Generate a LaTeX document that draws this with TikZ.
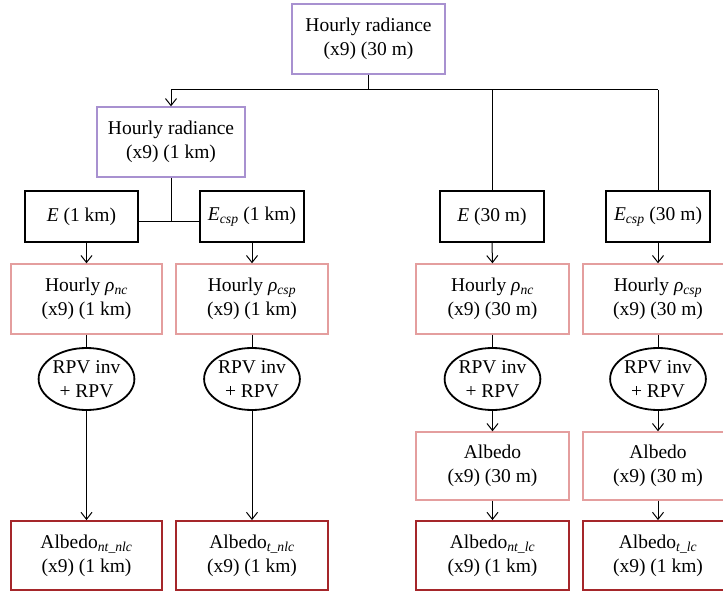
\documentclass[tikz,border=0pt]{standalone}
\usepackage{fontspec}
\setmainfont{Liberation Serif}
\usetikzlibrary{arrows.meta,shapes.geometric}
\definecolor{lav}{RGB}{168,145,208}
\definecolor{pinkb}{RGB}{228,158,158}
\definecolor{dred}{RGB}{165,38,42}
\begin{document}
\begin{tikzpicture}[x=1pt,y=-1pt,
  every node/.style={font=\fontsize{19.5}{24}\selectfont, align=center, inner sep=0pt},
  box/.style={draw, rectangle, minimum width=#1},
  purp/.style={box=#1, draw=lav, line width=1.3pt, minimum height=70pt},
  blk/.style={box=#1, draw=black, line width=1.8pt, minimum height=51pt},
  pnk/.style={box=#1, draw=pinkb, line width=1.4pt, minimum height=70pt},
  red/.style={box=#1, draw=dred, line width=1.8pt, minimum height=69pt},
  rpv/.style={draw, ellipse, line width=1.8pt, minimum width=83pt, minimum height=62pt},
  conn/.style={line width=1pt},
  arr/.style={conn, -{Straight Barb[length=7pt,width=11pt]}}
]
\useasboundingbox (0,0) rectangle (723,591);
\node[purp=153] (top) at (368.5,39) {Hourly radiance\\(x9) (30 m)};
\node[purp=148] (r1k) at (171,142) {Hourly radiance\\(x9) (1 km)};
\node[blk=113] (E1) at (81.5,216.5) {\textit{E} (1 km)};
\node[blk=104] (Ec1) at (252,216.5) {\textit{E}\textsubscript{\textit{csp}} (1 km)};
\node[blk=104] (E30) at (492,216.5) {\textit{E} (30 m)};
\node[blk=104] (Ec30) at (658,216.5) {\textit{E}\textsubscript{\textit{csp}} (30 m)};
\node[pnk=151] (p1) at (86.5,299) {Hourly \textit{ρ}\textsubscript{\textit{nc}}\\(x9) (1 km)};
\node[pnk=152] (p2) at (252,299) {Hourly \textit{ρ}\textsubscript{\textit{csp}}\\(x9) (1 km)};
\node[pnk=153] (p3) at (492.5,299) {Hourly \textit{ρ}\textsubscript{\textit{nc}}\\(x9) (30 m)};
\node[pnk=150] (p4) at (658,299) {Hourly \textit{ρ}\textsubscript{\textit{csp}}\\(x9) (30 m)};
\node[rpv] (e1) at (86.5,379) {RPV inv\\+ RPV};
\node[rpv] (e2) at (252,379) {RPV inv\\+ RPV};
\node[rpv] (e3) at (492.5,379) {RPV inv\\+ RPV};
\node[rpv] (e4) at (658,379) {RPV inv\\+ RPV};
\node[pnk=153, minimum height=68pt] (a3) at (492.5,466) {Albedo\\(x9) (30 m)};
\node[pnk=150, minimum height=68pt] (a4) at (658,466) {Albedo\\(x9) (30 m)};
\node[red=151] (b1) at (86.5,555.5) {Albedo\textsubscript{\textit{nt\_nlc}}\\(x9) (1 km)};
\node[red=152] (b2) at (252,555.5) {Albedo\textsubscript{\textit{t\_nlc}}\\(x9) (1 km)};
\node[red=153] (b3) at (492.5,555.5) {Albedo\textsubscript{\textit{nt\_lc}}\\(x9) (1 km)};
\node[red=150] (b4) at (658,555.5) {Albedo\textsubscript{\textit{t\_lc}}\\(x9) (1 km)};
% top splits
\coordinate (j) at (368.5,90);
\coordinate (k) at (171,221);
\draw[conn] (top.south) -- (j);
\draw[conn] (r1k.north |- j) -- (Ec30.north |- j);
\draw[arr] (r1k.north |- j) -- (r1k.north);
\draw[conn] (E30.north |- j) -- (E30.north);
\draw[conn] (Ec30.north |- j) -- (Ec30.north);
\draw[conn] (r1k.south) -- (k);
\draw[conn] (E1.east |- k) -- (Ec1.west |- k);
% E to rho
\draw[arr] (E1.south -| p1.north) -- (p1.north);
\draw[arr] (Ec1.south) -- (p2.north);
\draw[arr] (E30.south) -- (p3.north);
\draw[arr] (Ec30.south) -- (p4.north);
% rho to ellipses
\draw[conn] (p1.south) -- (e1.north);
\draw[conn] (p2.south) -- (e2.north);
\draw[conn] (p3.south) -- (e3.north);
\draw[conn] (p4.south) -- (e4.north);
% ellipses down
\draw[arr] (e1.south) -- (b1.north);
\draw[arr] (e2.south) -- (b2.north);
\draw[arr] (e3.south) -- (a3.north);
\draw[arr] (e4.south) -- (a4.north);
\draw[arr] (a3.south) -- (b3.north);
\draw[arr] (a4.south) -- (b4.north);
\end{tikzpicture}
\end{document}
